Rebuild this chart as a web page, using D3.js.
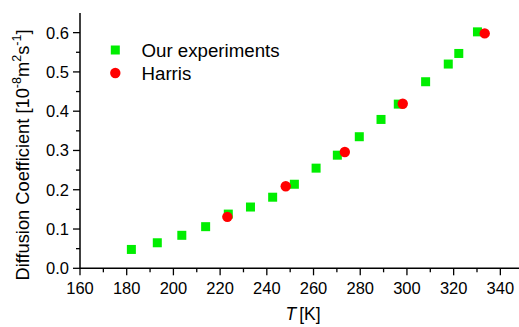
<!DOCTYPE html>
<html>
<head>
<meta charset="utf-8">
<script src="https://cdn.jsdelivr.net/npm/d3@7/dist/d3.min.js"></script>
<style>
  html, body { margin: 0; padding: 0; background: #fff; }
  svg { display: block; font-family: "Liberation Sans", Arial, sans-serif; }
</style>
</head>
<body>
<svg id="chart" width="519" height="327"></svg>
<script>
// Temperature (K) and diffusion coefficient (1e-8 m^2/s)
const ourT = [182.0, 193.1, 203.6, 213.8, 223.5, 233.0, 242.5, 251.8, 261.1, 270.2, 279.6, 288.9, 296.3, 308.0, 317.7, 322.2, 330.2];
const ourD = [0.048, 0.065, 0.084, 0.106, 0.138, 0.156, 0.181, 0.214, 0.255, 0.288, 0.335, 0.379, 0.418, 0.475, 0.520, 0.547, 0.602];
const harrisT = [223.1, 248.1, 273.4, 298.2, 333.3];
const harrisD = [0.131, 0.209, 0.296, 0.419, 0.598];

const xTicks = [160, 180, 200, 220, 240, 260, 280, 300, 320, 340];
const yTicks = [0.0, 0.1, 0.2, 0.3, 0.4, 0.5, 0.6];
const seriesNames = ["Our experiments", "Harris"];

const svg = d3.select("#chart");
const margin = { left: 80, top: 13, bottom: 268.3 };

const x = d3.scaleLinear().domain([160, 350]).range([margin.left, 523.7]);
const y = d3.scaleLinear().domain([0, 0.65]).range([margin.bottom, margin.top]);

const green = "#00ee00";
const red = "#ff0000";
const fontSize = 16.5;

// Minor ticks
const xMinor = d3.range(170, 350, 20);
const yMinor = d3.range(0.05, 0.65, 0.1);

const gx = svg.append("g").attr("transform", `translate(0,${margin.bottom})`);
gx.append("line").attr("x1", x(160)).attr("x2", 519).attr("stroke", "#000").attr("stroke-width", 1.5);
gx.selectAll(".maj").data(xTicks).join("line")
  .attr("x1", d => x(d)).attr("x2", d => x(d)).attr("y1", 0).attr("y2", 7)
  .attr("stroke", "#000").attr("stroke-width", 1.3);
gx.selectAll(".min").data(xMinor).join("line")
  .attr("x1", d => x(d)).attr("x2", d => x(d)).attr("y1", 0).attr("y2", 4)
  .attr("stroke", "#000").attr("stroke-width", 1.3);
gx.selectAll("text").data(xTicks).join("text")
  .attr("x", d => x(d)).attr("y", 26).attr("text-anchor", "middle")
  .attr("font-size", fontSize).text(d => d);

const gy = svg.append("g").attr("transform", `translate(${margin.left},0)`);
gy.append("line").attr("y1", y(0)).attr("y2", y(0.65)).attr("stroke", "#000").attr("stroke-width", 1.5);
gy.selectAll(".maj").data(yTicks).join("line")
  .attr("y1", d => y(d)).attr("y2", d => y(d)).attr("x1", 0).attr("x2", -7)
  .attr("stroke", "#000").attr("stroke-width", 1.3);
gy.selectAll(".min").data(yMinor).join("line")
  .attr("y1", d => y(d)).attr("y2", d => y(d)).attr("x1", 0).attr("x2", -4)
  .attr("stroke", "#000").attr("stroke-width", 1.3);
gy.selectAll("text").data(yTicks).join("text")
  .attr("x", -11).attr("y", d => y(d)).attr("dy", "0.36em").attr("text-anchor", "end")
  .attr("font-size", fontSize).text(d => d3.format(".1f")(d));

// Axis titles
const xt = svg.append("text").attr("x", 303).attr("y", 319.5).attr("text-anchor", "middle").attr("font-size", 17.5);
xt.append("tspan").attr("font-style", "italic").text("T");
xt.append("tspan").text("[K]").attr("dx", 3);

const supSize = 12.5, supShift = 8;
const yt = svg.append("text")
  .attr("transform", "translate(28.5,155) rotate(-90)")
  .attr("text-anchor", "middle").attr("font-size", 18.3);
yt.append("tspan").text("Diffusion Coefficient [10");
yt.append("tspan").attr("font-size", supSize).attr("dy", -supShift).text("-8");
yt.append("tspan").attr("dy", supShift).text("m");
yt.append("tspan").attr("font-size", supSize).attr("dy", -supShift).text("2");
yt.append("tspan").attr("dy", supShift).text("s");
yt.append("tspan").attr("font-size", supSize).attr("dy", -supShift).text("-1");
yt.append("tspan").attr("dy", supShift).text("]");

// Data marks
const sq = 9;
svg.append("g").selectAll("rect").data(ourT.map((t, i) => [t, ourD[i]])).join("rect")
  .attr("x", d => x(d[0]) - sq / 2).attr("y", d => y(d[1]) - sq / 2)
  .attr("width", sq).attr("height", sq).attr("fill", green);

svg.append("g").selectAll("circle").data(harrisT.map((t, i) => [t, harrisD[i]])).join("circle")
  .attr("cx", d => x(d[0])).attr("cy", d => y(d[1])).attr("r", 5.2).attr("fill", red);

// Legend
const lg = svg.append("g");
lg.append("rect").attr("x", 115.3 - sq / 2).attr("y", 50 - sq / 2).attr("width", sq).attr("height", sq).attr("fill", green);
lg.append("circle").attr("cx", 115.3).attr("cy", 73).attr("r", 5.2).attr("fill", red);
lg.selectAll("text").data(seriesNames).join("text")
  .attr("x", 141.5).attr("y", (d, i) => 50 + i * 23).attr("dy", "0.36em")
  .attr("font-size", 18.7).text(d => d);
</script>
</body>
</html>
